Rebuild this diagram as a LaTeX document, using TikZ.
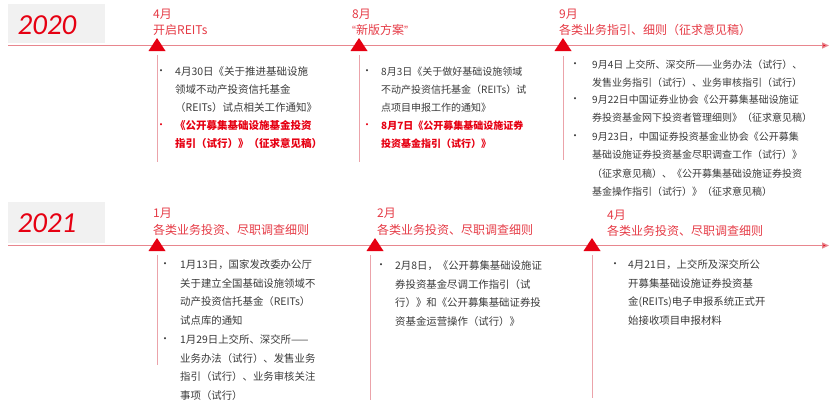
\documentclass[tikz,border=0pt]{standalone}
\usepackage{fontspec}
\setmainfont{Noto Sans CJK SC}
\newfontfamily\yearfont{Carlito}
\newfontfamily\latinq{Liberation Sans}
\usetikzlibrary{arrows.meta}
\definecolor{mainred}{HTML}{E60012}
\definecolor{labred}{HTML}{E53A45}
\definecolor{linered}{HTML}{E8868E}
\definecolor{vline}{HTML}{EBA3AA}
\definecolor{boxgray}{HTML}{F1F1F1}
\definecolor{bodytxt}{HTML}{3A3A3A}
\begin{document}
\begin{tikzpicture}[x=1pt,y=-1pt,
  yeartxt/.style={font=\yearfont\itshape\fontsize{29}{29}\selectfont, text=mainred, inner sep=0},
  mlabel/.style={anchor=west, inner sep=0, text=labred, font=\fontsize{12}{12}\selectfont},
  tmark/.pic={\fill[mainred] (0,-7) -- (8.5,6) -- (-8.5,6) -- cycle;},
  bul/.style={inner sep=0, font=\fontsize{10}{10}\selectfont, text=bodytxt},
  redbul/.style={bul, text=mainred},
  itemtxt/.style={anchor=north west, inner sep=0, align=left, text=bodytxt},
  reditem/.style={itemtxt, text=mainred},
  fA/.style={font=\fontsize{10.5}{18}\selectfont},
  fAb/.style={font=\bfseries\fontsize{10.5}{18}\selectfont},
  fB/.style={font=\fontsize{10}{18}\selectfont},
  fBb/.style={font=\bfseries\fontsize{10}{18}\selectfont},
  fC/.style={font=\fontsize{10}{18.3}\selectfont},
  fD/.style={font=\fontsize{10.4}{18.6}\selectfont},
  axis/.style={draw=linered, line width=1.3pt, arrows={-{Triangle[length=7pt,width=6pt,fill=mainred]}}},
  stem/.style={draw=vline, line width=1pt}
]
\useasboundingbox (0,0) rectangle (833,407);

% ---------- 2020 row ----------
\fill[boxgray] (8,4) rectangle (105,43);
\node[yeartxt] (y2020) at (47,25) {2020};
\coordinate (a1s) at (8,45.5);
\coordinate (a1e) at (829,45.5);
\draw[axis] (a1s) -- (a1e);
\pic at (157,45) {tmark};
\pic at (359,45) {tmark};
\pic at (563,45) {tmark};

\node[mlabel] (m4) at (153,14) {4月};
\node[mlabel] (t4) at (153,30) {开启REITs};
\node[mlabel] (m8) at (352,14) {8月};
\node[mlabel] (t8) at (352,30) {{\latinq “}新版方案{\latinq ”}};
\node[mlabel] (m9) at (559,14) {9月};
\node[mlabel] (t9) at (559,30) {各类业务指引、细则（征求意见稿）};

\coordinate (v1a) at (157,55); \coordinate (v1b) at (157,162);
\coordinate (v2a) at (359,55); \coordinate (v2b) at (359,162);
\coordinate (v3a) at (563,56); \coordinate (v3b) at (563,160);
\draw[stem] (v1a) -- (v1b);
\draw[stem] (v2a) -- (v2b);
\draw[stem] (v3a) -- (v3b);

\node[bul] (b11) at (161,72) {•};
\node[itemtxt,fA] (i11) at (175,66.5) {4月30日《关于推进基础设施\\领域不动产投资信托基金\\（REITs）试点相关工作通知》};
\node[redbul] (b12) at (161,126) {•};
\node[reditem,fAb] (i12) at (175,120.5) {《公开募集基础设施基金投资\\指引（试行）》（征求意见稿）};

\node[bul] (b21) at (367,72) {•};
\node[itemtxt,fB] (i21) at (381,66.8) {8月3日《关于做好基础设施领域\\不动产投资信托基金（REITs）试\\点项目申报工作的通知》};
\node[redbul] (b22) at (367,126) {•};
\node[reditem,fBb] (i22) at (381,120.8) {8月7日《公开募集基础设施证券\\投资基金指引（试行）》};

\node[bul] (b31) at (575,65) {•};
\node[itemtxt,fC] (i31) at (592,59.8) {9月4日 上交所、深交所——业务办法（试行）、\\发售业务指引（试行）、业务审核指引（试行）};
\node[bul] (b32) at (575,100) {•};
\node[itemtxt,fC] (i32) at (592,94.8) {9月22日中国证券业协会《公开募集基础设施证\\券投资基金网下投资者管理细则》（征求意见稿）};
\node[bul] (b33) at (575,137) {•};
\node[itemtxt,fC] (i33) at (592,131.8) {9月23日，中国证券投资基金业协会《公开募集\\基础设施证券投资基金尽职调查工作（试行）》\\（征求意见稿）、《公开募集基础设施证券投资\\基金操作指引（试行）》（征求意见稿）};

% ---------- 2021 row ----------
\fill[boxgray] (8,202) rectangle (105,243);
\node[yeartxt] (y2021) at (47,223) {2021};
\coordinate (a2s) at (8,245.5);
\coordinate (a2e) at (829,245.5);
\draw[axis] (a2s) -- (a2e);
\pic at (157,245) {tmark};
\pic at (375,245) {tmark};
\pic at (592,245) {tmark};

\node[mlabel] (m1) at (153,213) {1月};
\node[mlabel] (t1) at (153,230) {各类业务投资、尽职调查细则};
\node[mlabel] (m2) at (377,213) {2月};
\node[mlabel] (t2) at (377,230) {各类业务投资、尽职调查细则};
\node[mlabel] (m4b) at (607,215) {4月};
\node[mlabel] (t4b) at (607,231) {各类业务投资、尽职调查细则};

\coordinate (w1a) at (157,255); \coordinate (w1b) at (157,365);
\coordinate (w2a) at (370,255); \coordinate (w2b) at (370,400);
\coordinate (w3a) at (592,255); \coordinate (w3b) at (592,398);
\draw[stem] (w1a) -- (w1b);
\draw[stem] (w2a) -- (w2b);
\draw[stem] (w3a) -- (w3b);

\node[bul] (c11) at (165,265) {•};
\node[itemtxt,fD] (j11) at (180,259.6) {1月13日，国家发改委办公厅\\关于建立全国基础设施领域不\\动产投资信托基金（REITs）\\试点库的通知};
\node[bul] (c12) at (165,340) {•};
\node[itemtxt,fD] (j12) at (180,334.6) {1月29日上交所、深交所——\\业务办法（试行）、发售业务\\指引（试行）、业务审核关注\\事项（试行）};
\node[bul] (c21) at (381,266) {•};
\node[itemtxt,fD] (j21) at (395,260.6) {2月8日，《公开募集基础设施证\\券投资基金尽调工作指引（试\\行）》和《公开募集基础证券投\\资基金运营操作（试行）》};
\node[bul] (c31) at (615,265) {•};
\node[itemtxt,fD] (j31) at (628,259.6) {4月21日，上交所及深交所公\\开募集基础设施证券投资基\\金(REITs)电子申报系统正式开\\始接收项目申报材料};
\end{tikzpicture}
\end{document}
